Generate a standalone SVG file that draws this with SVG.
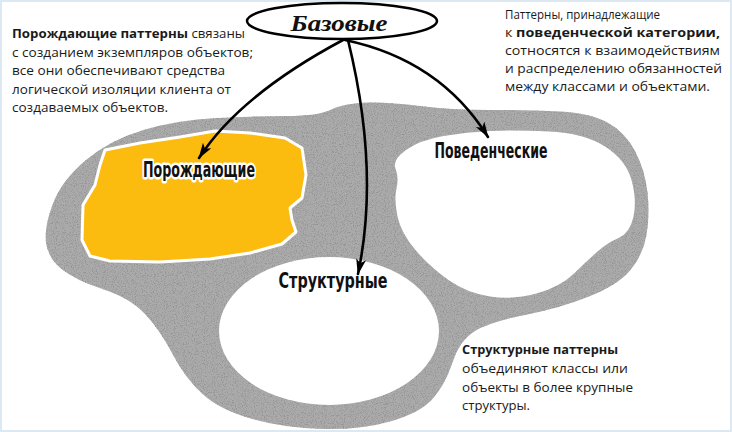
<svg xmlns="http://www.w3.org/2000/svg" width="732" height="432" viewBox="0 0 732 432">
<style>
.body{font-family:"Open Sans","Noto Sans","DejaVu Sans",sans-serif;font-size:13px;fill:#1a1a1a}
.b{font-weight:bold}
.lbl{font-family:"DejaVu Sans Condensed","DejaVu Sans",sans-serif;font-weight:bold;fill:#111;stroke:#fff;stroke-width:5px;paint-order:stroke;stroke-linejoin:round}
.arrow{fill:none;stroke:#000;stroke-width:2.6;stroke-linecap:round;marker-end:url(#ah)}
</style>
<defs>
<marker id="ah" markerUnits="userSpaceOnUse" markerWidth="18" markerHeight="12" refX="15" refY="5" orient="auto">
<path d="M0,0 L16,5 L0,10 L4,5 Z" fill="#000"/>
</marker>
<filter id="grain" x="0" y="0" width="100%" height="100%">
<feTurbulence type="fractalNoise" baseFrequency="0.9" numOctaves="2" seed="4" result="n"/>
<feColorMatrix in="n" type="matrix" values="0 0 0 0 0.3  0 0 0 0 0.3  0 0 0 0 0.3  4 0 0 0 -1.9" result="dots"/>
<feComposite in="dots" in2="SourceGraphic" operator="in" result="d2"/>
<feMerge><feMergeNode in="SourceGraphic"/><feMergeNode in="d2"/></feMerge>
</filter>
</defs>
<rect x="0" y="0" width="732" height="432" fill="#fff"/>
<rect x="1" y="1" width="730" height="430" fill="none" stroke="#dce8f2" stroke-width="2"/>

<g id="background-blob">
<path filter="url(#grain)" fill="#ababab" d="M46,242.5 Q44,227 53,203.5 Q62,180 86,160 Q110,140 143.5,130 Q177,120 217,118 Q257,116 287.5,116 Q318,116 331.5,109.5 Q345,103 367.5,102.5 Q390,102 420,106 Q450,110 490,110 Q530,110 560,111.5 Q590,113 607.5,122.5 Q625,132 635,151 Q645,170 647.5,192.5 Q650,215 646.5,235 Q643,255 630.5,270 Q618,285 589,296.5 Q560,308 525,315 Q490,322 475,331 Q460,340 452.5,362.5 Q445,385 432.5,399 Q420,413 390,421.5 Q360,430 322.5,429 Q285,428 252.5,419 Q220,410 202.5,394 Q185,378 172.5,354 Q160,330 145,314 Q130,298 102.5,289 Q75,280 61.5,269 Q48,258 46,242.5 Z"/>
</g>

<g id="node-creational">
<path fill="#fcbc0f" stroke="#fff" stroke-width="3" stroke-linejoin="round" d="M105,150 L140,143 L180,137 L215,131 L250,133 L285,138 L302,148 L306,175 L302,198 L290,208 L292,220 L296,232 L282,244 L250,253 L210,259 L160,262 L110,261 L90,256 L82,240 L83,205 L95,185 L100,165 Z"/>
<text class="lbl" x="199" y="177" font-size="22" text-anchor="middle" textLength="112" lengthAdjust="spacingAndGlyphs">Порождающие</text>
</g>

<g id="node-behavioral">
<path fill="#fff" d="M395.5,168.5 Q392,160 406,150 Q420,140 443.5,136 Q467,132 490,131 Q513,130 548.5,131.5 Q584,133 605,146.5 Q626,160 631.5,180 Q637,200 633.5,216.5 Q630,233 618.5,238 Q607,243 597.5,251.5 Q588,260 574,273.5 Q560,287 536.5,293.5 Q513,300 490,296.5 Q467,293 448.5,280 Q430,267 415.5,250 Q401,233 397.5,216.5 Q394,200 396.5,188.5 Q399,177 395.5,168.5 Z"/>
<text class="lbl" x="491" y="158" font-size="22" text-anchor="middle" textLength="113" lengthAdjust="spacingAndGlyphs">Поведенческие</text>
</g>

<g id="node-structural">
<ellipse cx="329" cy="331" rx="110" ry="74" fill="#fff"/>
<text class="lbl" x="333" y="288" font-size="21" text-anchor="middle" textLength="109" lengthAdjust="spacingAndGlyphs">Структурные</text>
</g>

<g id="node-base">
<ellipse cx="342" cy="21" rx="95" ry="18" fill="#fff" stroke="#000" stroke-width="2.5"/>
<text x="339" y="31" font-family="'Liberation Serif','DejaVu Serif',serif" font-weight="bold" font-style="italic" font-size="24" text-anchor="middle" textLength="97" lengthAdjust="spacingAndGlyphs" fill="#111">Базовые</text>
</g>

<g id="connectors">
<path class="arrow" d="M343,40 Q240,95 199,158"/>
<path class="arrow" d="M348,40 Q380,170 358,274"/>
<path class="arrow" d="M345,40 Q440,60 488,137"/>
</g>

<g id="note-creational">
<text class="body" x="12" y="38" textLength="233" lengthAdjust="spacingAndGlyphs"><tspan class="b">Порождающие паттерны</tspan> связаны</text>
<text class="body" x="12" y="57" textLength="241" lengthAdjust="spacingAndGlyphs">с созданием экземпляров объектов;</text>
<text class="body" x="12" y="75" textLength="213" lengthAdjust="spacingAndGlyphs">все они обеспечивают средства</text>
<text class="body" x="12" y="94" textLength="219" lengthAdjust="spacingAndGlyphs">логической изоляции клиента от</text>
<text class="body" x="12" y="112" textLength="156" lengthAdjust="spacingAndGlyphs">создаваемых объектов.</text>
</g>

<g id="note-behavioral">
<text class="body" x="505" y="19" textLength="155" lengthAdjust="spacingAndGlyphs">Паттерны, принадлежащие</text>
<text class="body" x="505" y="37" textLength="215" lengthAdjust="spacingAndGlyphs">к <tspan class="b">поведенческой категории,</tspan></text>
<text class="body" x="505" y="55" textLength="215" lengthAdjust="spacingAndGlyphs">сотносятся к взаимодействиям</text>
<text class="body" x="505" y="73" textLength="217" lengthAdjust="spacingAndGlyphs">и распределению обязанностей</text>
<text class="body" x="505" y="91" textLength="205" lengthAdjust="spacingAndGlyphs">между классами и объектами.</text>
</g>

<g id="note-structural">
<text class="body b" x="462" y="354" textLength="156" lengthAdjust="spacingAndGlyphs">Структурные паттерны</text>
<text class="body" x="462" y="373" textLength="166" lengthAdjust="spacingAndGlyphs">объединяют классы или</text>
<text class="body" x="462" y="392" textLength="171" lengthAdjust="spacingAndGlyphs">объекты в более крупные</text>
<text class="body" x="462" y="410" textLength="68" lengthAdjust="spacingAndGlyphs">структуры.</text>
</g>
</svg>
